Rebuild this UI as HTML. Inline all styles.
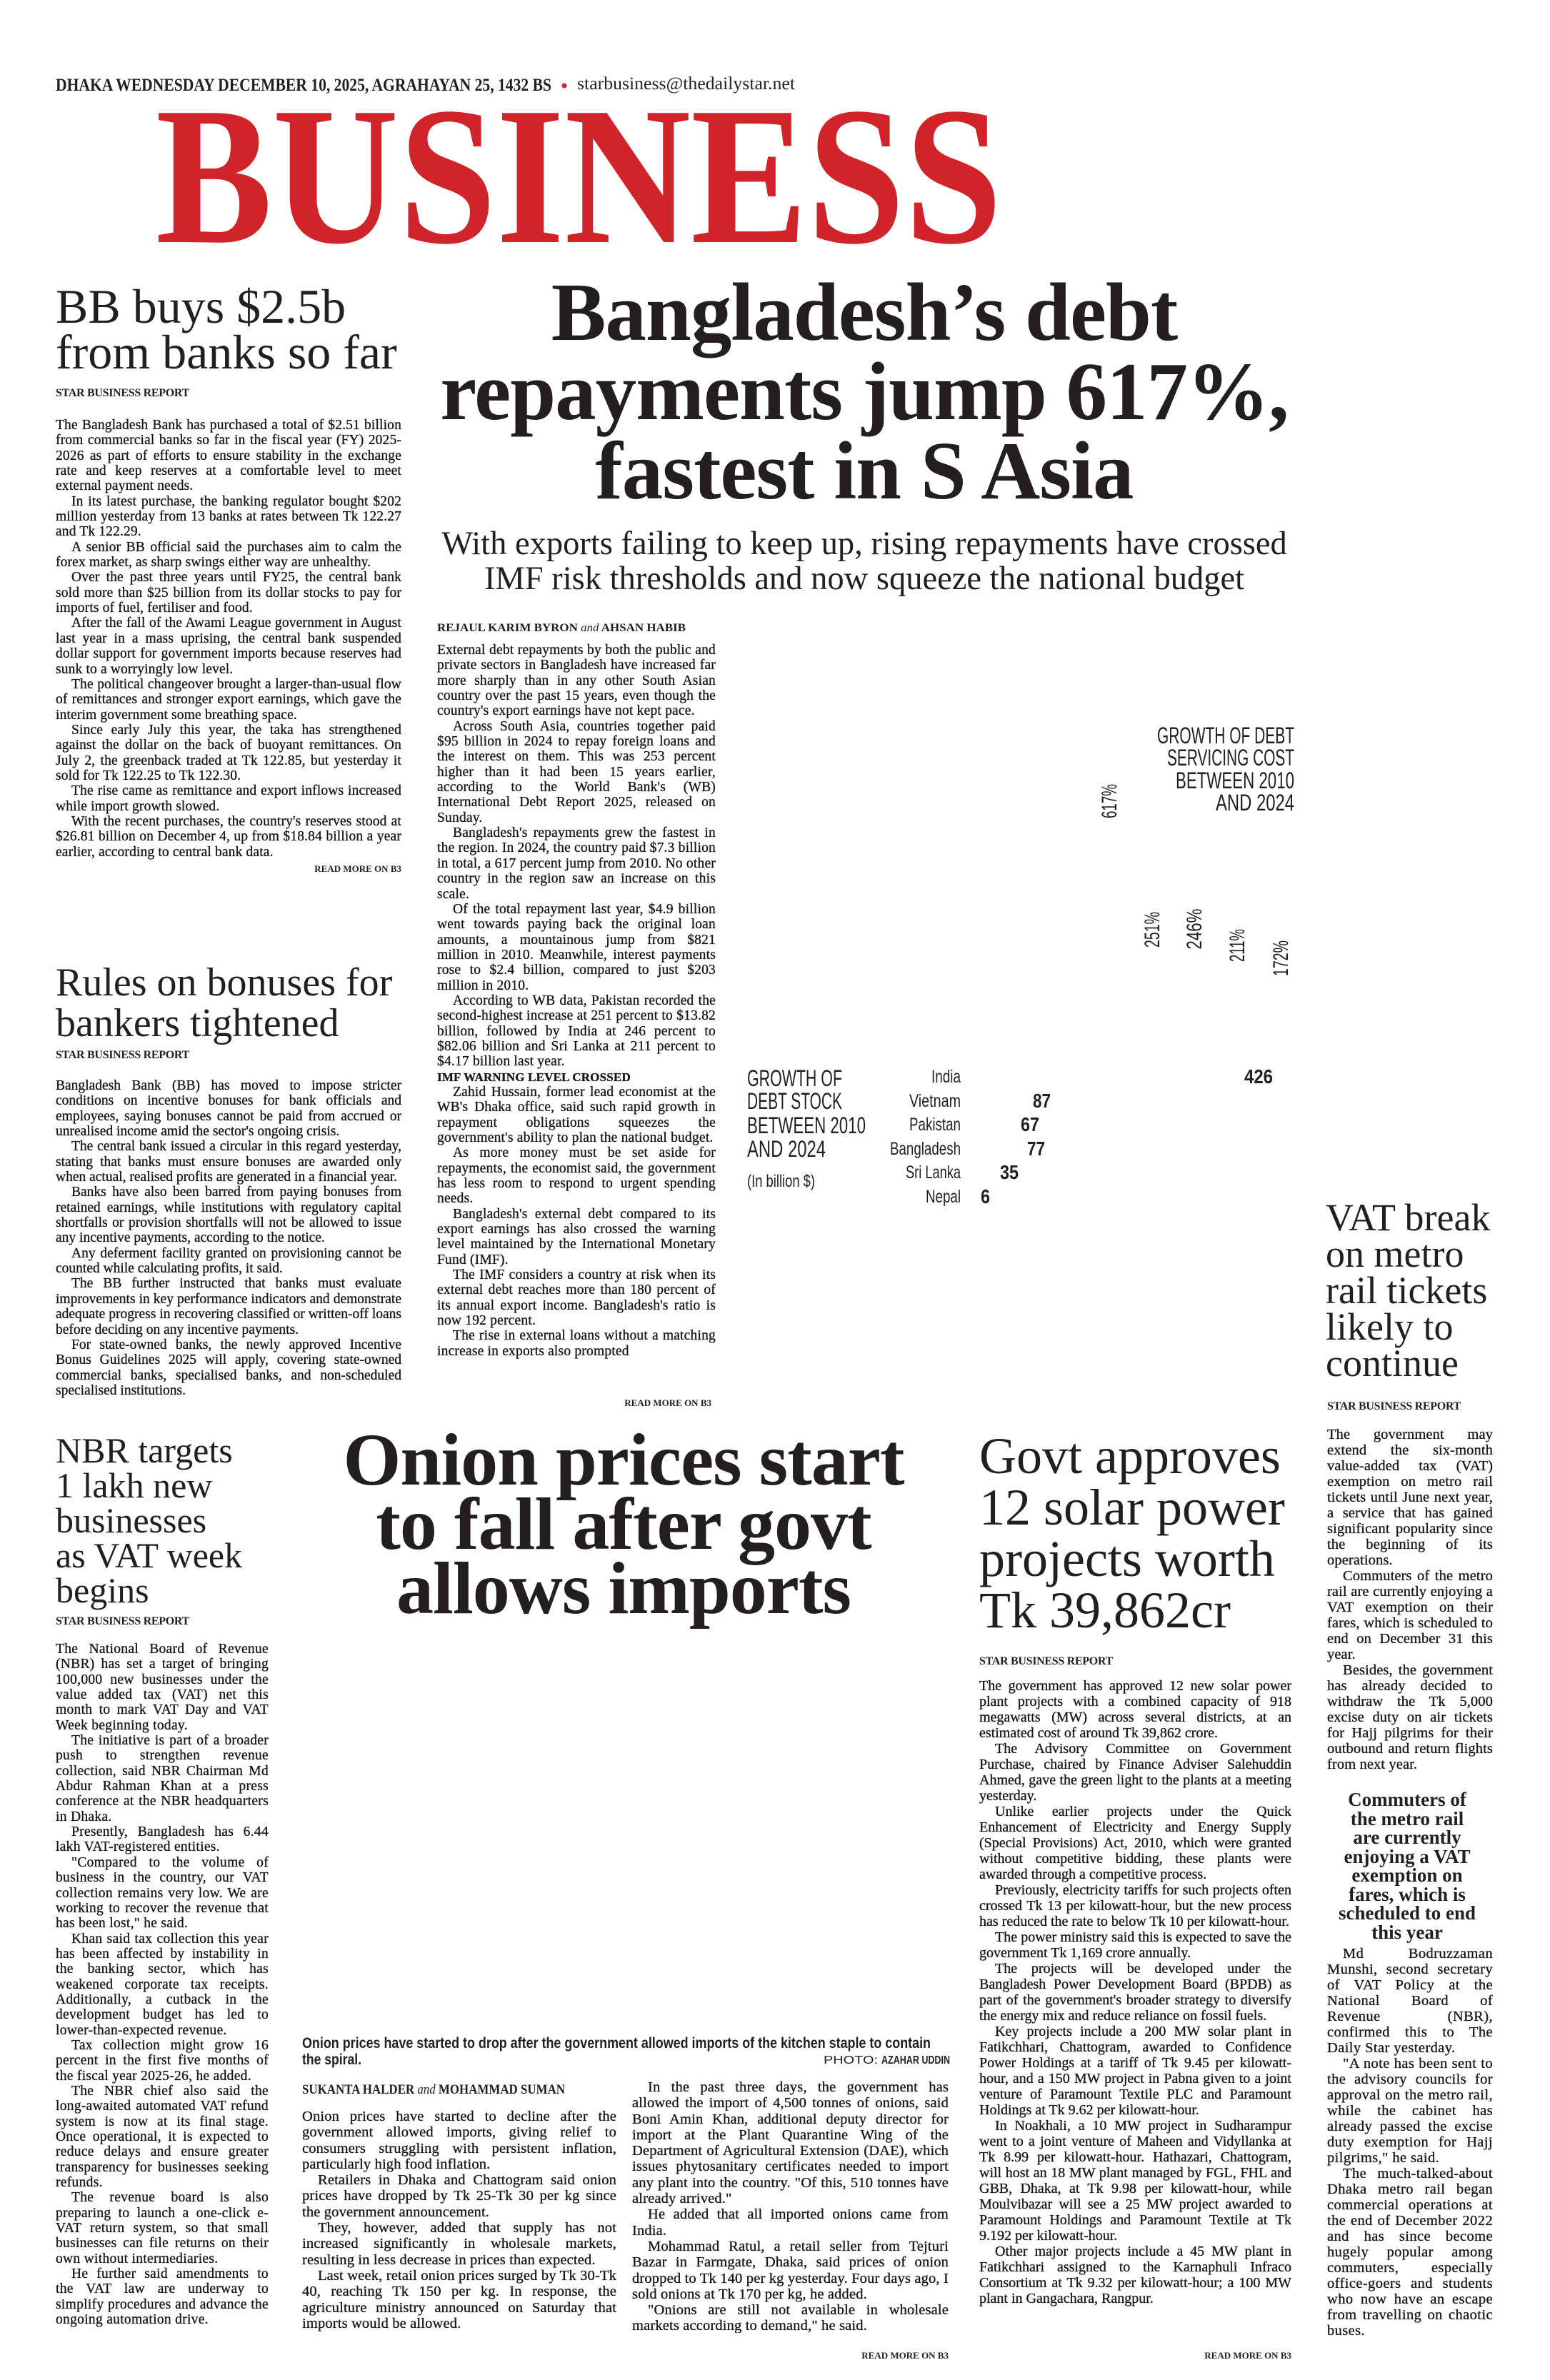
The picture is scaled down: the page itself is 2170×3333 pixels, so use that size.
<!DOCTYPE html>
<html><head><meta charset="utf-8">
<style>
html,body{margin:0;padding:0;background:#fff;}
body{width:2170px;height:3333px;position:relative;overflow:hidden;color:#231f20;font-family:"Liberation Serif",serif;}
.a{position:absolute;}
.hl{font-family:"Liberation Serif",serif;font-weight:normal;color:#231f20;white-space:nowrap;}
.sbr{position:absolute;font:bold 16px/18px "Liberation Serif",serif;letter-spacing:-0.3px;white-space:nowrap;}
.bd{position:absolute;font-size:19.5px;line-height:21.35px;text-align:justify;overflow:hidden;color:#1a1718;letter-spacing:0.15px;-webkit-text-stroke:0.35px #1a1718;}
.bd p{margin:0;text-indent:22px;}
.bd p.ni{text-indent:0;}
.bd h5{margin:0;font:bold 17px/21.35px "Liberation Serif",serif;text-indent:0;}
.rm{position:absolute;font:bold 13px/14px "Liberation Serif",serif;white-space:nowrap;background:#fff;}
</style></head>
<body>

<svg class="a" style="left:0;top:0" width="2170" height="3333" xmlns="http://www.w3.org/2000/svg">
 <g font-family="Liberation Serif, serif" fill="#231f20">
  <text x="78" y="127" font-size="25" font-weight="bold" textLength="694" lengthAdjust="spacingAndGlyphs">DHAKA WEDNESDAY DECEMBER 10, 2025, AGRAHAYAN 25, 1432 BS</text>
  <circle cx="790" cy="120" r="3.5" fill="#d1232a"/>
  <text x="808" y="125" font-size="25" textLength="305" lengthAdjust="spacingAndGlyphs">starbusiness@thedailystar.net</text>
  <text x="218" y="339" font-size="276" font-weight="bold" fill="#d1232a" textLength="1185" lengthAdjust="spacingAndGlyphs">BUSINESS</text>
 </g>
 <g font-family="Liberation Sans, sans-serif" fill="#231f20">
  <text x="1812" y="1041" font-size="32" text-anchor="end" textLength="192" lengthAdjust="spacingAndGlyphs">GROWTH OF DEBT</text>
  <text x="1812" y="1072" font-size="32" text-anchor="end" textLength="178" lengthAdjust="spacingAndGlyphs">SERVICING COST</text>
  <text x="1812" y="1104" font-size="32" text-anchor="end" textLength="166" lengthAdjust="spacingAndGlyphs">BETWEEN 2010</text>
  <text x="1812" y="1135" font-size="32" text-anchor="end" textLength="110" lengthAdjust="spacingAndGlyphs">AND 2024</text>

  <text transform="translate(1563,1122) rotate(-90)" font-size="30" text-anchor="middle" textLength="48" lengthAdjust="spacingAndGlyphs">617%</text>
  <text transform="translate(1623,1302) rotate(-90)" font-size="30" text-anchor="middle" textLength="50" lengthAdjust="spacingAndGlyphs">251%</text>
  <text transform="translate(1682,1301) rotate(-90)" font-size="30" text-anchor="middle" textLength="57" lengthAdjust="spacingAndGlyphs">246%</text>
  <text transform="translate(1742,1324) rotate(-90)" font-size="30" text-anchor="middle" textLength="46" lengthAdjust="spacingAndGlyphs">211%</text>
  <text transform="translate(1803,1342) rotate(-90)" font-size="30" text-anchor="middle" textLength="50" lengthAdjust="spacingAndGlyphs">172%</text>

  <text x="1046" y="1521" font-size="32" textLength="133" lengthAdjust="spacingAndGlyphs">GROWTH OF</text>
  <text x="1046" y="1553" font-size="32" textLength="133" lengthAdjust="spacingAndGlyphs">DEBT STOCK</text>
  <text x="1046" y="1587" font-size="32" textLength="166" lengthAdjust="spacingAndGlyphs">BETWEEN 2010</text>
  <text x="1046" y="1620" font-size="32" textLength="110" lengthAdjust="spacingAndGlyphs">AND 2024</text>
  <text x="1046" y="1662" font-size="24" textLength="95" lengthAdjust="spacingAndGlyphs">(In billion $)</text>

  <text x="1345" y="1516" font-size="25" text-anchor="end" textLength="41" lengthAdjust="spacingAndGlyphs">India</text>
  <text x="1345" y="1550" font-size="25" text-anchor="end" textLength="72" lengthAdjust="spacingAndGlyphs">Vietnam</text>
  <text x="1345" y="1583" font-size="25" text-anchor="end" textLength="72" lengthAdjust="spacingAndGlyphs">Pakistan</text>
  <text x="1345" y="1617" font-size="25" text-anchor="end" textLength="99" lengthAdjust="spacingAndGlyphs">Bangladesh</text>
  <text x="1345" y="1650" font-size="25" text-anchor="end" textLength="77" lengthAdjust="spacingAndGlyphs">Sri Lanka</text>
  <text x="1345" y="1684" font-size="25" text-anchor="end" textLength="49" lengthAdjust="spacingAndGlyphs">Nepal</text>

  <g font-weight="bold" font-size="28">
   <text x="1742" y="1517" textLength="40" lengthAdjust="spacingAndGlyphs">426</text>
   <text x="1446" y="1551" textLength="25" lengthAdjust="spacingAndGlyphs">87</text>
   <text x="1429" y="1584" textLength="26" lengthAdjust="spacingAndGlyphs">67</text>
   <text x="1438" y="1618" textLength="25" lengthAdjust="spacingAndGlyphs">77</text>
   <text x="1400" y="1651" textLength="26" lengthAdjust="spacingAndGlyphs">35</text>
   <text x="1373" y="1685" textLength="13" lengthAdjust="spacingAndGlyphs">6</text>
  </g>

  <g font-weight="bold" font-size="21">
   <text x="423" y="2868" textLength="880" lengthAdjust="spacingAndGlyphs">Onion prices have started to drop after the government allowed imports of the kitchen staple to contain</text>
   <text x="423" y="2891" textLength="83" lengthAdjust="spacingAndGlyphs">the spiral.</text>
  </g>
  <text x="1229" y="2890" font-size="16" text-anchor="end" textLength="76" lengthAdjust="spacingAndGlyphs">PHOTO:</text>
  <text x="1330" y="2890" font-size="16" font-weight="bold" text-anchor="end" textLength="96" lengthAdjust="spacingAndGlyphs">AZAHAR UDDIN</text>
 </g>
 <g font-family="Liberation Serif, serif" fill="#231f20">
  <text x="423" y="2932" font-size="19" font-weight="bold" textLength="368" lengthAdjust="spacingAndGlyphs">SUKANTA HALDER <tspan font-style="italic" font-weight="normal">and</tspan> MOHAMMAD SUMAN</text>
  <text x="612" y="884" font-size="16" font-weight="bold" textLength="348" lengthAdjust="spacingAndGlyphs">REJAUL KARIM BYRON <tspan font-style="italic" font-weight="normal">and</tspan> AHSAN HABIB</text>
 </g>
</svg>

<!-- BB buys -->
<div class="a hl" style="left:78px;top:397px;font-size:68px;line-height:64px;">BB buys $2.5b<br>from banks so far</div>
<div class="sbr" style="left:78px;top:542px;">STAR BUSINESS REPORT</div>
<div class="bd" style="left:78px;top:585px;width:484px;height:623px;">
<p class="ni">The Bangladesh Bank has purchased a total of $2.51 billion from commercial banks so far in the fiscal year (FY) 2025-2026 as part of efforts to ensure stability in the exchange rate and keep reserves at a comfortable level to meet external payment needs.</p>
<p>In its latest purchase, the banking regulator bought $202 million yesterday from 13 banks at rates between Tk 122.27 and Tk 122.29.</p>
<p>A senior BB official said the purchases aim to calm the forex market, as sharp swings either way are unhealthy.</p>
<p>Over the past three years until FY25, the central bank sold more than $25 billion from its dollar stocks to pay for imports of fuel, fertiliser and food.</p>
<p>After the fall of the Awami League government in August last year in a mass uprising, the central bank suspended dollar support for government imports because reserves had sunk to a worryingly low level.</p>
<p>The political changeover brought a larger-than-usual flow of remittances and stronger export earnings, which gave the interim government some breathing space.</p>
<p>Since early July this year, the taka has strengthened against the dollar on the back of buoyant remittances. On July 2, the greenback traded at Tk 122.85, but yesterday it sold for Tk 122.25 to Tk 122.30.</p>
<p>The rise came as remittance and export inflows increased while import growth slowed.</p>
<p>With the recent purchases, the country's reserves stood at $26.81 billion on December 4, up from $18.84 billion a year earlier, according to central bank data.</p>
</div>
<div class="rm" style="left:428px;top:1210px;width:134px;text-align:right;">READ MORE ON B3</div>

<!-- Rules on bonuses -->
<div class="a hl" style="left:78px;top:1348px;font-size:56px;line-height:57px;">Rules on bonuses for<br>bankers tightened</div>
<div class="sbr" style="left:78px;top:1469px;">STAR BUSINESS REPORT</div>
<div class="bd" style="left:78px;top:1510px;width:484px;height:452px;letter-spacing:0;">
<p class="ni">Bangladesh Bank (BB) has moved to impose stricter conditions on incentive bonuses for bank officials and employees, saying bonuses cannot be paid from accrued or unrealised income amid the sector's ongoing crisis.</p>
<p>The central bank issued a circular in this regard yesterday, stating that banks must ensure bonuses are awarded only when actual, realised profits are generated in a financial year.</p>
<p>Banks have also been barred from paying bonuses from retained earnings, while institutions with regulatory capital shortfalls or provision shortfalls will not be allowed to issue any incentive payments, according to the notice.</p>
<p>Any deferment facility granted on provisioning cannot be counted while calculating profits, it said.</p>
<p>The BB further instructed that banks must evaluate improvements in key performance indicators and demonstrate adequate progress in recovering classified or written-off loans before deciding on any incentive payments.</p>
<p>For state-owned banks, the newly approved Incentive Bonus Guidelines 2025 will apply, covering state-owned commercial banks, specialised banks, and non-scheduled specialised institutions.</p>
</div>

<!-- Main headline -->
<div class="a" style="left:510px;top:382px;width:1400px;text-align:center;font-weight:bold;font-size:115px;line-height:111px;white-space:nowrap;letter-spacing:-1px;">Bangladesh’s debt<br>repayments jump 617%,<br>fastest in S Asia</div>
<div class="a" style="left:560px;top:737px;width:1300px;text-align:center;font-size:46.5px;line-height:49px;white-space:nowrap;">With exports failing to keep up, rising repayments have crossed<br>IMF risk thresholds and now squeeze the national budget</div>

<div class="bd" style="left:612px;top:900px;width:390px;height:1052px;letter-spacing:0.2px;">
<p class="ni">External debt repayments by both the public and private sectors in Bangladesh have increased far more sharply than in any other South Asian country over the past 15 years, even though the country's export earnings have not kept pace.</p>
<p>Across South Asia, countries together paid $95 billion in 2024 to repay foreign loans and the interest on them. This was 253 percent higher than it had been 15 years earlier, according to the World Bank's (WB) International Debt Report 2025, released on Sunday.</p>
<p>Bangladesh's repayments grew the fastest in the region. In 2024, the country paid $7.3 billion in total, a 617 percent jump from 2010. No other country in the region saw an increase on this scale.</p>
<p>Of the total repayment last year, $4.9 billion went towards paying back the original loan amounts, a mountainous jump from $821 million in 2010. Meanwhile, interest payments rose to $2.4 billion, compared to just $203 million in 2010.</p>
<p>According to WB data, Pakistan recorded the second-highest increase at 251 percent to $13.82 billion, followed by India at 246 percent to $82.06 billion and Sri Lanka at 211 percent to $4.17 billion last year.</p>
<h5>IMF WARNING LEVEL CROSSED</h5>
<p>Zahid Hussain, former lead economist at the WB's Dhaka office, said such rapid growth in repayment obligations squeezes the government's ability to plan the national budget.</p>
<p>As more money must be set aside for repayments, the economist said, the government has less room to respond to urgent spending needs.</p>
<p>Bangladesh's external debt compared to its export earnings has also crossed the warning level maintained by the International Monetary Fund (IMF).</p>
<p>The IMF considers a country at risk when its external debt reaches more than 180 percent of its annual export income. Bangladesh's ratio is now 192 percent.</p>
<p>The rise in external loans without a matching increase in exports also prompted</p>
</div>
<div class="rm" style="left:862px;top:1958px;width:134px;text-align:right;">READ MORE ON B3</div>

<!-- VAT break -->
<div class="a hl" style="left:1856px;top:1680px;font-size:54px;line-height:51px;">VAT break<br>on metro<br>rail tickets<br>likely to<br>continue</div>
<div class="sbr" style="left:1858px;top:1961px;">STAR BUSINESS REPORT</div>
<div class="bd" style="left:1858px;top:1998px;width:232px;height:496px;font-size:20.5px;line-height:22px;letter-spacing:0.1px;">
<p class="ni">The government may extend the six-month value-added tax (VAT) exemption on metro rail tickets until June next year, a service that has gained significant popularity since the beginning of its operations.</p>
<p>Commuters of the metro rail are currently enjoying a VAT exemption on their fares, which is scheduled to end on December 31 this year.</p>
<p>Besides, the government has already decided to withdraw the Tk 5,000 excise duty on air tickets for Hajj pilgrims for their outbound and return flights from next year.</p>
</div>
<div class="a" style="left:1870px;top:2507px;width:200px;text-align:center;font:bold 27px/26.5px 'Liberation Serif',serif;">Commuters of the metro rail are currently enjoying a VAT exemption on fares, which is scheduled to end this year</div>
<div class="bd" style="left:1858px;top:2725px;width:232px;height:578px;font-size:20.5px;line-height:22px;letter-spacing:0.4px;">
<p>Md Bodruzzaman Munshi, second secretary of VAT Policy at the National Board of Revenue (NBR), confirmed this to The Daily Star yesterday.</p>
<p>"A note has been sent to the advisory councils for approval on the metro rail, while the cabinet has already passed the excise duty exemption for Hajj pilgrims," he said.</p>
<p>The much-talked-about Dhaka metro rail began commercial operations at the end of December 2022 and has since become hugely popular among commuters, especially office-goers and students who now have an escape from travelling on chaotic buses.</p>
</div>

<!-- NBR -->
<div class="a hl" style="left:78px;top:2007px;font-size:50px;line-height:49px;">NBR targets<br>1 lakh new<br>businesses<br>as VAT week<br>begins</div>
<div class="sbr" style="left:78px;top:2262px;">STAR BUSINESS REPORT</div>
<div class="bd" style="left:78px;top:2299px;width:298px;height:1004px;letter-spacing:0.3px;">
<p class="ni">The National Board of Revenue (NBR) has set a target of bringing 100,000 new businesses under the value added tax (VAT) net this month to mark VAT Day and VAT Week beginning today.</p>
<p>The initiative is part of a broader push to strengthen revenue collection, said NBR Chairman Md Abdur Rahman Khan at a press conference at the NBR headquarters in Dhaka.</p>
<p>Presently, Bangladesh has 6.44 lakh VAT-registered entities.</p>
<p>"Compared to the volume of business in the country, our VAT collection remains very low. We are working to recover the revenue that has been lost," he said.</p>
<p>Khan said tax collection this year has been affected by instability in the banking sector, which has weakened corporate tax receipts. Additionally, a cutback in the development budget has led to lower-than-expected revenue.</p>
<p>Tax collection might grow 16 percent in the first five months of the fiscal year 2025-26, he added.</p>
<p>The NBR chief also said the long-awaited automated VAT refund system is now at its final stage. Once operational, it is expected to reduce delays and ensure greater transparency for businesses seeking refunds.</p>
<p>The revenue board is also preparing to launch a one-click e-VAT return system, so that small businesses can file returns on their own without intermediaries.</p>
<p>He further said amendments to the VAT law are underway to simplify procedures and advance the ongoing automation drive.</p>
</div>

<!-- Onion -->
<div class="a" style="left:373px;top:2000px;width:1000px;text-align:center;font-weight:bold;font-size:104px;line-height:90px;white-space:nowrap;letter-spacing:-1px;">Onion prices start<br>to fall after govt<br>allows imports</div>
<div class="bd" style="left:423px;top:2953px;width:440px;height:350px;font-size:20.5px;line-height:22.3px;">
<p class="ni">Onion prices have started to decline after the government allowed imports, giving relief to consumers struggling with persistent inflation, particularly high food inflation.</p>
<p>Retailers in Dhaka and Chattogram said onion prices have dropped by Tk 25-Tk 30 per kg since the government announcement.</p>
<p>They, however, added that supply has not increased significantly in wholesale markets, resulting in less decrease in prices than expected.</p>
<p>Last week, retail onion prices surged by Tk 30-Tk 40, reaching Tk 150 per kg. In response, the agriculture ministry announced on Saturday that imports would be allowed.</p>
</div>
<div class="bd" style="left:885px;top:2912px;width:443px;height:355px;font-size:20.5px;line-height:22.3px;">
<p>In the past three days, the government has allowed the import of 4,500 tonnes of onions, said Boni Amin Khan, additional deputy director for import at the Plant Quarantine Wing of the Department of Agricultural Extension (DAE), which issues phytosanitary certificates needed to import any plant into the country. "Of this, 510 tonnes have already arrived."</p>
<p>He added that all imported onions came from India.</p>
<p>Mohammad Ratul, a retail seller from Tejturi Bazar in Farmgate, Dhaka, said prices of onion dropped to Tk 140 per kg yesterday. Four days ago, I sold onions at Tk 170 per kg, he added.</p>
<p>"Onions are still not available in wholesale markets according to demand," he said.</p>
</div>
<div class="rm" style="left:1194px;top:3292px;width:134px;text-align:right;">READ MORE ON B3</div>

<!-- Solar -->
<div class="a hl" style="left:1371px;top:2003px;font-size:72px;line-height:72px;">Govt approves<br>12 solar power<br>projects worth<br>Tk 39,862cr</div>
<div class="sbr" style="left:1371px;top:2318px;">STAR BUSINESS REPORT</div>
<div class="bd" style="left:1371px;top:2350px;width:437px;height:938px;font-size:20px;line-height:22px;letter-spacing:0;">
<p class="ni">The government has approved 12 new solar power plant projects with a combined capacity of 918 megawatts (MW) across several districts, at an estimated cost of around Tk 39,862 crore.</p>
<p>The Advisory Committee on Government Purchase, chaired by Finance Adviser Salehuddin Ahmed, gave the green light to the plants at a meeting yesterday.</p>
<p>Unlike earlier projects under the Quick Enhancement of Electricity and Energy Supply (Special Provisions) Act, 2010, which were granted without competitive bidding, these plants were awarded through a competitive process.</p>
<p>Previously, electricity tariffs for such projects often crossed Tk 13 per kilowatt-hour, but the new process has reduced the rate to below Tk 10 per kilowatt-hour.</p>
<p>The power ministry said this is expected to save the government Tk 1,169 crore annually.</p>
<p>The projects will be developed under the Bangladesh Power Development Board (BPDB) as part of the government's broader strategy to diversify the energy mix and reduce reliance on fossil fuels.</p>
<p>Key projects include a 200 MW solar plant in Fatikchhari, Chattogram, awarded to Confidence Power Holdings at a tariff of Tk 9.45 per kilowatt-hour, and a 150 MW project in Pabna given to a joint venture of Paramount Textile PLC and Paramount Holdings at Tk 9.62 per kilowatt-hour.</p>
<p>In Noakhali, a 10 MW project in Sudharampur went to a joint venture of Maheen and Vidyllanka at Tk 8.99 per kilowatt-hour. Hathazari, Chattogram, will host an 18 MW plant managed by FGL, FHL and GBB, Dhaka, at Tk 9.98 per kilowatt-hour, while Moulvibazar will see a 25 MW project awarded to Paramount Holdings and Paramount Textile at Tk 9.192 per kilowatt-hour.</p>
<p>Other major projects include a 45 MW plant in Fatikchhari assigned to the Karnaphuli Infraco Consortium at Tk 9.32 per kilowatt-hour; a 100 MW plant in Gangachara, Rangpur.</p>
</div>
<div class="rm" style="left:1674px;top:3292px;width:134px;text-align:right;">READ MORE ON B3</div>

</body></html>
